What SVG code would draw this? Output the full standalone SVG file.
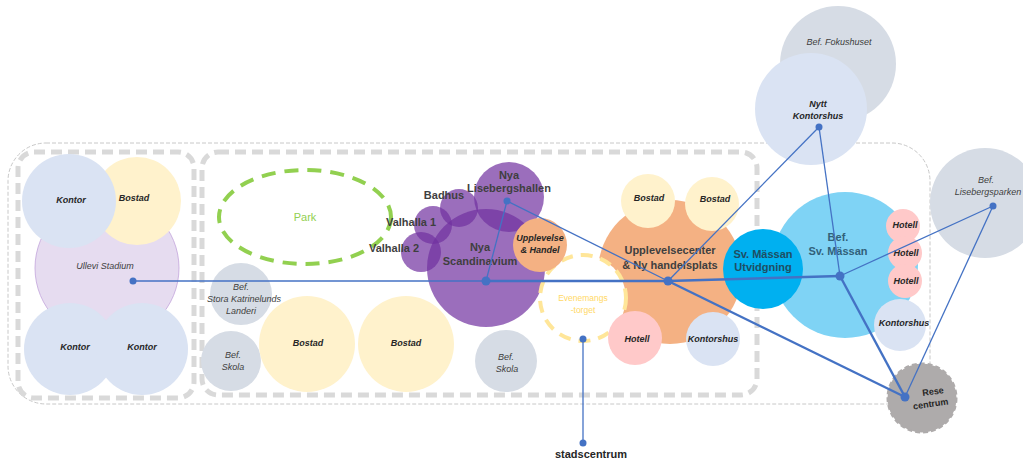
<svg xmlns="http://www.w3.org/2000/svg" width="1023" height="467" viewBox="0 0 1023 467">
<style>
text{font-family:"Liberation Sans",Arial,sans-serif;text-anchor:middle;}
.lb{font-size:9px;font-style:italic;font-weight:bold;fill:#262626;}
.bf{font-size:9px;font-style:italic;fill:#404040;}
.big{font-size:11px;font-weight:bold;fill:#3f3f3f;}
.kontor{fill:#dae3f3;}
.bostad{fill:#fff2cc;}
.bef{fill:#d6dce5;}
.hotell{fill:#ffc9c9;}
.orange{fill:#f4b183;}
.purple{fill:#7030a0;fill-opacity:0.7;}
.thick{fill:none;stroke:#d9d9d9;stroke-width:5;stroke-dasharray:11 6;}
.thin{fill:none;stroke:#c8c8c8;stroke-width:1;stroke-dasharray:4 2;}
.c1{stroke:#4472c4;stroke-width:1.3;fill:none;}
.c2{stroke:#4472c4;stroke-width:2.4;fill:none;}
.dot{fill:#4472c4;}
</style>
<rect width="1023" height="467" fill="#ffffff"/>
<g id="zones">
<rect class="thin" x="8" y="143" width="922" height="261" rx="38"/>
<rect class="thick" x="18" y="152" width="176" height="246" rx="16"/>
<rect class="thick" x="202" y="152" width="555" height="243" rx="16"/>
</g>
<g id="ullevi">
<circle cx="107" cy="268" r="72" fill="#e6dcf0" stroke="#c3a5dc" stroke-width="0.8"/>
<text class="bf" x="105" y="269">Ullevi Stadium</text>
</g>
<g id="bostad-ullevi"><circle class="bostad" cx="137" cy="201" r="44"/><text class="lb" x="134" y="201">Bostad</text></g>
<g id="kontor-1"><circle class="kontor" cx="69" cy="201" r="47"/><text class="lb" x="71" y="203">Kontor</text></g>
<g id="kontor-2"><circle class="kontor" cx="70" cy="349" r="46"/><text class="lb" x="75" y="350">Kontor</text></g>
<g id="kontor-3"><circle class="kontor" cx="142" cy="349" r="46"/><text class="lb" x="142" y="350">Kontor</text></g>
<g id="park">
<ellipse cx="305" cy="217" rx="86" ry="47" fill="none" stroke="#92d050" stroke-width="4" stroke-dasharray="14 9"/>
<text x="305" y="221" style="font-size:11px;fill:#92d050;">Park</text>
</g>
<g id="landeri"><circle class="bef" cx="241" cy="294" r="31"/>
<text class="bf" x="241" y="290">Bef.</text><text class="bf" x="244" y="302">Stora Katrinelunds</text><text class="bf" x="241" y="314">Landeri</text></g>
<g id="skola-1"><circle class="bef" cx="231" cy="361" r="30"/><text class="bf" x="233" y="358">Bef.</text><text class="bf" x="233" y="370">Skola</text></g>
<g id="bostad-2"><circle class="bostad" cx="307" cy="344" r="48"/><text class="lb" x="308" y="346">Bostad</text></g>
<g id="bostad-3"><circle class="bostad" cx="406" cy="344" r="48"/><text class="lb" x="406" y="346">Bostad</text></g>
<g id="skola-2"><circle class="bef" cx="506" cy="361" r="31"/><text class="bf" x="506" y="360">Bef.</text><text class="bf" x="507" y="372">Skola</text></g>
<g id="scandinavium"><circle class="purple" cx="486" cy="268" r="59"/><text class="big" x="480" y="251">Nya</text><text class="big" x="480" y="265">Scandinavium</text></g>
<g id="lisebergshallen"><circle class="purple" cx="509" cy="197" r="35"/><text class="big" x="509" y="179">Nya</text><text class="big" x="509" y="192">Lisebergshallen</text></g>
<g id="badhus"><circle class="purple" cx="459" cy="208" r="19"/><text class="big" x="444" y="199">Badhus</text></g>
<g id="valhalla-1"><circle class="purple" cx="433" cy="225" r="19"/><text class="big" x="411" y="226">Valhalla 1</text></g>
<g id="valhalla-2"><circle class="purple" cx="421" cy="252" r="20"/><text class="big" x="394" y="252">Valhalla 2</text></g>
<g id="upplevelsecenter"><circle class="orange" cx="670" cy="272" r="72"/><text class="big" x="670" y="254">Upplevelsecenter</text><text class="big" x="670" y="269">&amp; Ny handelsplats</text></g>
<g id="evenemangstorget">
<circle cx="583" cy="298" r="43" fill="#ffffff" stroke="#ffe699" stroke-width="4" stroke-dasharray="12 8"/>
<text x="583" y="301" style="font-size:8.5px;fill:#ffd966;">Evenemangs</text><text x="583" y="313" style="font-size:8.5px;fill:#ffd966;">-torget</text>
</g>
<g id="upplevelse-handel"><circle class="orange" cx="540" cy="245" r="27"/><text class="lb" x="540" y="241">Upplevelse</text><text class="lb" x="540" y="253">&amp; Handel</text></g>
<g id="bostad-4"><circle class="bostad" cx="648" cy="201" r="27"/><text class="lb" x="649" y="201">Bostad</text></g>
<g id="bostad-5"><circle class="bostad" cx="712" cy="204" r="27"/><text class="lb" x="715" y="202">Bostad</text></g>
<g id="hotell-1"><circle class="hotell" cx="635" cy="338" r="27"/><text class="lb" x="637" y="342">Hotell</text></g>
<g id="kontorshus-1"><circle class="kontor" cx="713" cy="339" r="27"/><text class="lb" x="713" y="342">Kontorshus</text></g>
<g id="sv-massan"><circle cx="845" cy="265" r="73" fill="#7fd3f5"/><text class="big" x="838" y="241" style="fill:#31617a;">Bef.</text><text class="big" x="838" y="255" style="fill:#31617a;">Sv. Mässan</text></g>
<g id="sv-massan-utvidgning"><circle cx="763" cy="269" r="40" fill="#00b0f0"/><text class="big" x="763" y="258" style="fill:#1f4e63;">Sv. Mässan</text><text class="big" x="763" y="271" style="fill:#1f4e63;">Utvidgning</text></g>
<g id="hotell-2"><circle class="hotell" cx="903" cy="226" r="17"/><text class="lb" x="905" y="228">Hotell</text></g>
<g id="hotell-3"><circle class="hotell" cx="905" cy="253" r="17"/><text class="lb" x="906" y="256">Hotell</text></g>
<g id="hotell-4"><circle class="hotell" cx="905" cy="281" r="17"/><text class="lb" x="906" y="284">Hotell</text></g>
<g id="kontorshus-2"><circle class="kontor" cx="900" cy="325" r="26"/><text class="lb" x="904" y="326">Kontorshus</text></g>
<g id="fokushuset"><circle class="bef" cx="838" cy="64" r="58"/><text class="bf" x="839" y="45">Bef. Fokushuset</text></g>
<g id="nytt-kontorshus"><circle class="kontor" cx="811" cy="109" r="56"/><text class="lb" x="818" y="107">Nytt</text><text class="lb" x="818" y="119">Kontorshus</text></g>
<g id="lisebergsparken"><circle class="bef" cx="985" cy="203" r="55"/><text class="bf" x="986" y="183">Bef.</text><text class="bf" x="988" y="195">Lisebergsparken</text></g>
<g id="resecentrum">
<circle cx="922" cy="398" r="34.5" fill="#aeabab" stroke="#aeabab" stroke-width="2" stroke-dasharray="5 3"/>
<g transform="rotate(-8 930 399)"><text class="big" x="934" y="395" style="font-size:9px;fill:#262626;">Rese</text><text class="big" x="930" y="407" style="font-size:9px;fill:#262626;">centrum</text></g>
</g>
<g id="stadscentrum"><text x="591" y="458" style="font-size:11px;font-weight:bold;fill:#262626;">stadscentrum</text></g>
<g id="connectors">
<line class="c1" x1="133" y1="281" x2="486" y2="281"/>
<line class="c2" x1="486" y1="281" x2="668" y2="281"/>
<line class="c2" x1="668" y1="281" x2="840" y2="276"/>
<line class="c1" x1="486" y1="281" x2="507" y2="201"/>
<line class="c1" x1="507" y1="201" x2="668" y2="281"/>
<line class="c2" x1="668" y1="281" x2="905" y2="397"/>
<line class="c1" x1="668" y1="281" x2="819" y2="127"/>
<line class="c1" x1="819" y1="127" x2="840" y2="276"/>
<line class="c1" x1="840" y1="276" x2="993" y2="206"/>
<line class="c2" x1="840" y1="276" x2="905" y2="397"/>
<line class="c1" x1="905" y1="397" x2="993" y2="206"/>
<line class="c1" x1="583" y1="339" x2="583" y2="443"/>
<circle class="dot" cx="133" cy="281" r="3.5"/>
<circle class="dot" cx="486" cy="281" r="4.5"/>
<circle class="dot" cx="507" cy="201" r="3.5"/>
<circle class="dot" cx="668" cy="281" r="4.5"/>
<circle class="dot" cx="840" cy="276" r="4.5"/>
<circle class="dot" cx="819" cy="127" r="3.5"/>
<circle class="dot" cx="993" cy="206" r="3.5"/>
<circle class="dot" cx="905" cy="397" r="4.5"/>
<circle class="dot" cx="583" cy="339" r="3.5"/>
<circle class="dot" cx="583" cy="443" r="3.5"/>
</g>
</svg>
